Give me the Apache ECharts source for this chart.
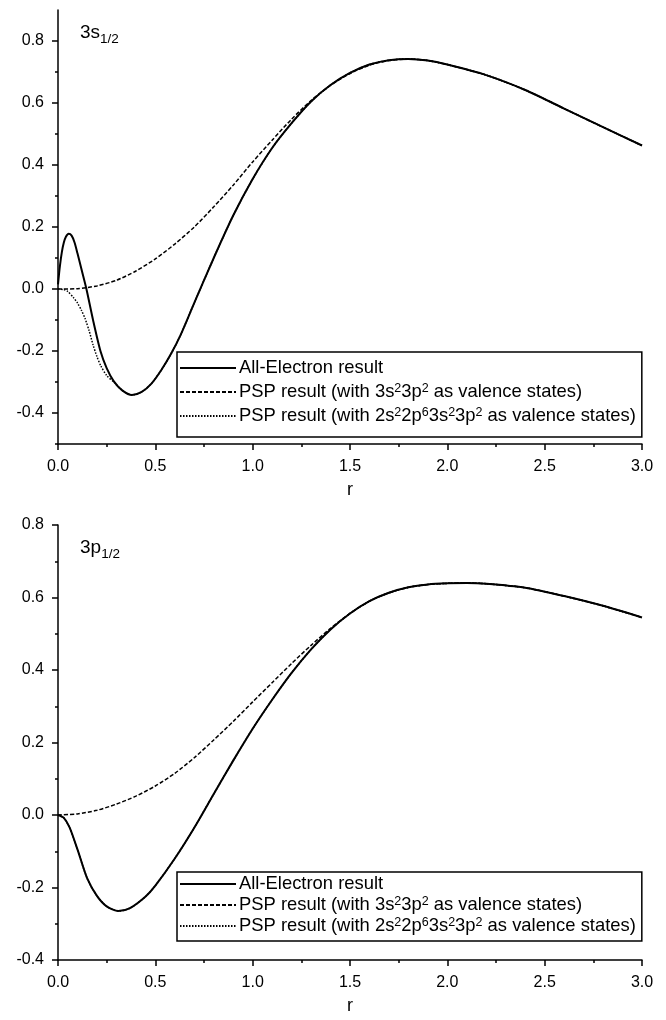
<!DOCTYPE html>
<html><head><meta charset="utf-8">
<script src="https://cdn.jsdelivr.net/npm/echarts@6/dist/echarts.min.js"></script>
<style>html,body{margin:0;padding:0;background:#fff}#c{width:666px;height:1020px}</style>
</head><body><div id="c"></div>
<script>
// ---- Panel 1: 3s1/2 ----
const s_ae = [[0,0.015],[0.01,0.075],[0.02,0.12],[0.03,0.15],[0.04,0.168],[0.055,0.178],[0.07,0.172],[0.085,0.15],[0.1,0.115],[0.12,0.065],[0.146,0],[0.18,-0.1],[0.218,-0.2],[0.25,-0.255],[0.286,-0.297],[0.33,-0.327],[0.38,-0.342],[0.43,-0.332],[0.48,-0.305],[0.53,-0.262],[0.58,-0.21],[0.63,-0.148],[0.7,-0.045],[0.8,0.1],[0.9,0.237],[1.0,0.355],[1.1,0.455],[1.2,0.535],[1.3,0.605],[1.4,0.658],[1.5,0.697],[1.6,0.724],[1.7,0.738],[1.8,0.742],[1.9,0.737],[2.0,0.724],[2.2,0.69],[2.4,0.642],[2.6,0.582],[2.8,0.522],[3.0,0.463]];
const s_psp1 = [[0,0],[0.1,0.001],[0.2,0.01],[0.3,0.028],[0.4,0.058],[0.5,0.097],[0.6,0.145],[0.7,0.2],[0.8,0.265],[0.9,0.335],[1.0,0.41],[1.1,0.48],[1.2,0.548],[1.3,0.608],[1.4,0.657],[1.5,0.695],[1.6,0.722],[1.7,0.737],[1.8,0.742],[1.9,0.737],[2.0,0.724],[2.2,0.69],[2.4,0.642],[2.6,0.582],[2.8,0.522],[3.0,0.463]];
const s_psp2 = [[0,0],[0.03,-0.002],[0.05,-0.008],[0.08,-0.028],[0.1,-0.045],[0.12,-0.068],[0.14,-0.097],[0.16,-0.135],[0.18,-0.18],[0.2,-0.218],[0.22,-0.248],[0.25,-0.279],[0.286,-0.3],[0.33,-0.327],[0.38,-0.342],[0.43,-0.332],[0.48,-0.305],[0.53,-0.262],[0.58,-0.21],[0.63,-0.148],[0.7,-0.045],[0.8,0.1],[0.9,0.237],[1.0,0.355],[1.1,0.455],[1.2,0.535],[1.3,0.605],[1.4,0.658],[1.5,0.697],[1.6,0.724],[1.7,0.738],[1.8,0.742],[1.9,0.737],[2.0,0.724],[2.2,0.69],[2.4,0.642],[2.6,0.582],[2.8,0.522],[3.0,0.463]];
// ---- Panel 2: 3p1/2 ----
const p_ae = [[0,0],[0.03,-0.008],[0.06,-0.035],[0.1,-0.095],[0.15,-0.175],[0.2,-0.223],[0.25,-0.252],[0.31,-0.265],[0.37,-0.257],[0.45,-0.225],[0.5,-0.195],[0.6,-0.12],[0.7,-0.035],[0.8,0.058],[0.9,0.15],[1.0,0.238],[1.1,0.318],[1.2,0.392],[1.3,0.457],[1.4,0.512],[1.5,0.556],[1.6,0.59],[1.7,0.613],[1.8,0.628],[1.9,0.636],[2.0,0.639],[2.1,0.64],[2.2,0.638],[2.4,0.627],[2.6,0.604],[2.8,0.577],[3.0,0.545]];
const p_psp1 = [[0,0],[0.1,0.003],[0.2,0.013],[0.3,0.03],[0.4,0.052],[0.5,0.08],[0.6,0.115],[0.7,0.158],[0.8,0.207],[0.9,0.258],[1.0,0.312],[1.1,0.365],[1.2,0.418],[1.3,0.468],[1.4,0.515],[1.5,0.556],[1.6,0.59],[1.7,0.613],[1.8,0.628],[1.9,0.636],[2.0,0.639],[2.1,0.64],[2.2,0.638],[2.4,0.627],[2.6,0.604],[2.8,0.577],[3.0,0.545]];
const p_psp2 = [[0,0],[0.03,-0.008],[0.06,-0.035],[0.1,-0.095],[0.15,-0.175],[0.2,-0.223],[0.25,-0.252],[0.31,-0.265],[0.37,-0.257],[0.45,-0.225],[0.5,-0.195],[0.6,-0.12],[0.7,-0.035],[0.8,0.058],[0.9,0.15],[1.0,0.238],[1.1,0.318],[1.2,0.392],[1.3,0.457],[1.4,0.512],[1.5,0.556],[1.6,0.59],[1.7,0.613],[1.8,0.628],[1.9,0.636],[2.0,0.639],[2.1,0.64],[2.2,0.638],[2.4,0.627],[2.6,0.604],[2.8,0.577],[3.0,0.545]];

const xLabels = [0,0.5,1.0,1.5,2.0,2.5,3.0];
const yLabelsTop = [-0.4,-0.2,0.0,0.2,0.4,0.6,0.8];
const yMinorTop = [-0.5,-0.3,-0.1,0.1,0.3,0.5,0.7];
const legendNames1 = ['All-Electron result','PSP result (with 3s23p2 as valence states)','PSP result (with 2s22p63s23p2 as valence states)'];
const legendNames2 = ['All-Electron result ','PSP result (with 3s23p2 as valence states) ','PSP result (with 2s22p63s23p2 as valence states) '];
const legendRich = {
  'All-Electron result': 'All-Electron result',
  'PSP result (with 3s23p2 as valence states)': 'PSP result (with 3s{sup|2}3p{sup|2} as valence states)',
  'PSP result (with 2s22p63s23p2 as valence states)': 'PSP result (with 2s{sup|2}2p{sup|6}3s{sup|2}3p{sup|2} as valence states)'
};

const FONT = 'Liberation Sans, Arial, sans-serif';
const black = '#000';
const richStyles = {
  sup: {fontSize: 12.5, verticalAlign: 'top', lineHeight: 12, fontFamily: FONT, color: black},
};

function mkX(grid) {
  return {
    type: 'value', gridIndex: grid, min: 0, max: 3, interval: 0.5,
    name: 'r', nameLocation: 'middle', nameGap: 37,
    nameTextStyle: {fontSize: 18, fontFamily: FONT, color: black},
    axisLine: {show: true, onZero: false, lineStyle: {color: black, width: 1.5}},
    axisTick: {show: true, inside: false, length: 6, lineStyle: {color: black, width: 1.5}},
    minorTick: {show: true, splitNumber: 2, length: 3, lineStyle: {color: black, width: 1.5}},
    splitLine: {show: false}, minorSplitLine: {show: false},
    axisLabel: {show: true, margin: 15, fontSize: 16, fontFamily: FONT, color: black,
      formatter: v => v.toFixed(1)}
  };
}
const legendBase = {
  orient: 'vertical', left: 177, align: 'left',
  itemWidth: 56, itemHeight: 10,
  backgroundColor: '#fff', borderColor: black, borderWidth: 1.5, borderRadius: 0,
  itemStyle: {opacity: 0, borderWidth: 0},
  textStyle: {fontSize: 18.4, fontFamily: FONT, color: black, lineHeight: 20, padding: [0,0,0,-2], rich: richStyles},
  formatter: n => legendRich[n.trim()],
  inactiveColor: black
};
const lineSolid = {color: black, width: 2, type: 'solid'};
const lineDash = {color: black, width: 1.5, type: [4, 2]};
const lineDot = {color: black, width: 1.5, type: [1.5, 1.5]};
function ser(name, data, x, style, z) {
  return {type: 'line', name, data, xAxisIndex: x, yAxisIndex: x === 0 ? 0 : 2,
    symbol: 'none', showSymbol: false, smooth: 0.25,
    lineStyle: style, itemStyle: {color: black}, z, animation: false};
}
const titleRich = {
  m: {fontSize: 19, fontFamily: FONT, color: black, fontWeight: 'normal', lineHeight: 26},
  s: {fontSize: 13.5, fontFamily: FONT, color: black, fontWeight: 'normal', verticalAlign: 'bottom', lineHeight: 13}
};

const option = {
  animation: false,
  backgroundColor: '#fff',
  title: [
    {text: '{m|3s}{s|1/2}', left: 75, top: 15, textStyle: {fontWeight: 'normal', rich: titleRich}},
    {text: '{m|3p}{s|1/2}', left: 75, top: 530, textStyle: {fontWeight: 'normal', rich: titleRich}}
  ],
  grid: [
    {left: 58, top: 10, width: 584, height: 434},
    {left: 58, top: 525, width: 584, height: 435}
  ],
  xAxis: [mkX(0), mkX(1)],
  yAxis: [
    {type: 'value', gridIndex: 0, min: -0.5, max: 0.9,
     axisLine: {show: true, onZero: false, lineStyle: {color: black, width: 1.5}},
     axisTick: {show: true, inside: false, length: 6, customValues: yLabelsTop, lineStyle: {color: black, width: 1.5}},
     axisLabel: {show: true, margin: 14, customValues: yLabelsTop, fontSize: 16, fontFamily: FONT, color: black, formatter: v => v.toFixed(1)},
     splitLine: {show: false}},
    {type: 'value', gridIndex: 0, min: -0.5, max: 0.9, position: 'left',
     axisLine: {show: false},
     axisTick: {show: true, inside: false, length: 3, customValues: yMinorTop, lineStyle: {color: black, width: 1.5}},
     axisLabel: {show: false}, splitLine: {show: false}},
    {type: 'value', gridIndex: 1, min: -0.4, max: 0.8, interval: 0.2,
     axisLine: {show: true, onZero: false, lineStyle: {color: black, width: 1.5}},
     axisTick: {show: true, inside: false, length: 6, lineStyle: {color: black, width: 1.5}},
     minorTick: {show: true, splitNumber: 2, length: 3, lineStyle: {color: black, width: 1.5}},
     axisLabel: {show: true, margin: 14, fontSize: 16, fontFamily: FONT, color: black, formatter: v => v.toFixed(1)},
     splitLine: {show: false}, minorSplitLine: {show: false}}
  ],
  legend: [
    Object.assign({}, legendBase, {top: 352, itemGap: 4, padding: [6, 6, 11, 2], data: legendNames1}),
    Object.assign({}, legendBase, {top: 872, itemGap: 1, padding: [2, 6, 5, 2], data: legendNames2})
  ],
  series: [
    ser(legendNames1[2], s_psp2, 0, lineDot, 2),
    ser(legendNames1[1], s_psp1, 0, lineDash, 3),
    ser(legendNames1[0], s_ae, 0, lineSolid, 4),
    ser(legendNames2[2], p_psp2, 1, lineDot, 2),
    ser(legendNames2[1], p_psp1, 1, lineDash, 3),
    ser(legendNames2[0], p_ae, 1, lineSolid, 4)
  ]
};
const chart = echarts.init(document.getElementById('c'), null, {renderer: 'canvas'});
chart.setOption(option);
</script></body></html>
